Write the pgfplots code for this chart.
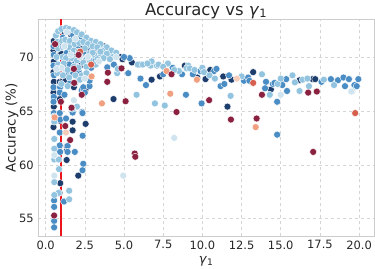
\documentclass[border=0pt]{standalone}
\usepackage{pgfplots}
\pgfplotsset{compat=1.18}
\usepackage{fontspec}
\setmainfont{DejaVu Sans}
\definecolor{cnavy}{HTML}{1D3D6D}
\definecolor{cmid}{HTML}{4A8DC4}
\definecolor{clight}{HTML}{92C4E0}
\definecolor{cpale}{HTML}{D0E4F0}
\definecolor{csalmon}{HTML}{F0A080}
\definecolor{cpink}{HTML}{F5CDBA}
\definecolor{cred}{HTML}{D6604D}
\definecolor{cwine}{HTML}{8B2141}
\definecolor{spine}{HTML}{CCCCCC}
\definecolor{gridc}{HTML}{D5D5D5}
\definecolor{txt}{HTML}{262626}
\definecolor{vline}{RGB}{235,20,28}
\tikzset{pt/.style={only marks, mark=*, mark size=3.5bp, mark options={draw=white, line width=0.4bp, fill=#1}}}
\begin{document}
\begin{tikzpicture}
\useasboundingbox (-38.3bp,-33bp) rectangle (336.7bp,236bp);
\begin{axis}[
  at={(0,0)}, anchor=south west,
  scale only axis, width=335.7bp, height=216.7bp,
  xmin=-0.47, xmax=20.95, ymin=53.4, ymax=73.5,
  xtick={0,2.5,5,7.5,10,12.5,15,17.5,20},
  xticklabels={0.0,2.5,5.0,7.5,10.0,12.5,15.0,17.5,20.0},
  ytick={55,60,65,70},
  major tick length=0pt,
  grid=major,
  grid style={dashed, gridc, line width=0.6bp},
  axis line style={spine, line width=0.9bp},
  /pgf/number format/assume math mode=true,
  tick label style={font=\fontsize{11.5}{12}\selectfont, text=txt},
  xticklabel style={yshift=-1bp},
  yticklabel style={xshift=-1bp},
  title={Accuracy vs \textit{γ}\textsubscript{1}},
  title style={font=\fontsize{16.5}{18}\selectfont, text=txt, yshift=-9bp},
  xlabel={\textit{γ}\textsubscript{1}},
  xlabel style={font=\fontsize{13}{14}\selectfont, text=txt, yshift=0bp},
  ylabel={Accuracy (\%)},
  ylabel style={font=\fontsize{13.5}{14}\selectfont, text=txt, yshift=-6bp},
  clip=true,
]
% navy
\addplot[pt=cnavy] coordinates {
(0.52,71.5)(0.5,70.6)(0.53,69.6)(0.5,68.6)(0.52,67.7)(0.5,66.7)(0.52,65.4)(0.5,63.5)
(0.9,71.0)(0.92,70.2)(0.88,69.1)(0.9,67.7)(0.9,66.1)(0.9,64.1)(0.88,61.3)(0.93,58.3)(0.88,57.4)
(1.05,67.7)(1.3,67.9)(1.2,72.3)(1.6,72.1)(1.25,70.9)(1.45,69.8)(1.7,71.4)(1.9,70.0)(2.05,71.6)(2.3,70.9)(2.5,71.3)(2.7,70.6)(2.95,70.4)(3.1,70.8)(3.3,70.6)(3.55,71.0)(3.7,71.0)(2.2,69.2)(1.6,68.8)(1.8,67.2)(2.55,67.0)(1.15,69.0)(1.0,70.3)
(1.72,63.2)(1.72,64.0)(1.34,60.45)(2.08,59.0)(2.55,63.8)(1.35,61.7)(1.35,61.3)
(4.33,66.1)(4.78,70.0)(5.5,69.5)(6.76,67.9)(7.29,68.2)(8.88,69.2)(9.67,68.1)(10.2,67.95)(10.5,68.8)(11.33,68.2)(11.86,67.9)(13.24,68.6)(14.37,67.0)(15.0,67.7)(16.2,67.85)(17.03,67.95)(17.2,67.95)(11.6,65.4)(4.0,70.2)(4.9,69.8)
};
% mid blue
\addplot[pt=cmid] coordinates {
(0.52,70.2)(0.5,69.2)(0.53,68.3)(0.5,67.2)(0.52,66.3)(0.5,65.85)(0.52,64.8)(0.54,56.7)(0.54,56.1)(0.54,54.8)(0.54,54.2)(0.5,71.0)
(0.92,67.2)(0.9,66.7)(0.9,64.8)(0.92,64.2)(0.9,61.8)(0.92,61.2)(0.9,63.0)
(1.3,64.3)(1.4,61.75)(1.4,61.2)(1.86,61.2)(1.17,56.6)(2.36,62.7)(2.4,60.1)(2.35,59.5)(2.33,64.9)(1.72,64.85)(2.35,64.8)(1.2,66.5)
(1.55,67.6)(2.0,68.2)(2.3,66.9)(2.4,66.7)(2.8,67.3)(2.8,67.8)(2.4,67.2)(2.5,66.7)
(1.1,71.8)(1.4,71.2)(1.75,72.0)(2.2,71.9)(1.35,70.4)(1.65,70.6)(2.0,70.9)(2.45,70.5)(2.85,71.0)(3.2,71.2)(3.4,70.3)(3.8,70.8)(4.1,70.5)
(1.2,69.6)(1.5,69.3)(1.9,69.5)(2.35,69.9)(2.6,69.8)(3.0,69.6)(1.3,68.4)(1.75,68.5)(2.1,68.7)(2.9,69.0)
(3.93,69.05)(4.35,69.3)(5.36,69.9)(5.27,68.5)(6.05,68.0)(6.4,67.4)(7.5,68.4)(8.1,69.0)(8.7,68.4)(9.39,68.4)(9.87,68.7)(10.75,68.7)(10.9,68.9)
(11.16,67.3)(11.4,67.5)(11.7,68.3)(12.65,67.8)(12.92,68.1)(13.0,67.8)(14.06,67.7)(14.0,67.1)(14.5,67.5)(14.6,67.6)(15.1,67.4)(15.35,67.95)(15.4,66.85)
(17.6,67.7)(18.2,67.95)(18.65,67.85)(19.0,68.1)(19.1,67.3)(19.35,67.95)(19.7,67.4)(19.85,67.3)(19.95,67.95)
(8.95,66.5)(9.95,65.7)(14.77,65.85)(14.77,62.8)(5.0,70.0)(6.0,69.3)
};
% light blue
\addplot[pt=clight] coordinates {
(0.65,72.0)(0.8,72.4)(1.0,72.6)(1.3,72.7)(1.5,72.6)(1.8,72.5)(2.0,72.3)(2.3,72.1)(2.6,71.8)(2.9,71.5)(3.2,71.4)(3.5,71.2)(3.9,70.9)(4.2,70.6)(4.5,70.4)
(0.75,71.4)(1.05,71.5)(1.25,71.6)(1.55,71.5)(1.85,71.2)(2.15,71.3)(2.4,71.4)(2.7,71.2)(3.0,71.0)(3.3,70.9)(3.6,70.6)
(0.8,70.8)(1.1,70.9)(1.5,70.9)(1.8,70.6)(2.1,70.5)(2.5,70.8)(2.8,70.3)(3.1,70.2)(3.5,70.1)(3.9,70.3)(4.3,70.0)
(0.7,70.0)(1.1,70.0)(1.3,69.9)(1.7,69.9)(2.0,69.7)(2.4,69.5)(2.8,69.7)(3.3,69.8)(3.7,69.9)(4.56,68.5)(4.6,68.9)
(0.8,69.3)(1.15,69.4)(1.4,68.8)(1.8,69.1)(2.1,69.0)(2.6,69.1)(3.2,69.3)
(0.75,68.5)(1.1,68.3)(1.5,68.1)(1.9,68.3)(2.3,68.3)(2.6,68.5)
(1.0,67.5)(1.4,67.3)(1.9,67.6)(2.2,67.9)
(0.55,61.5)(0.55,60.5)(0.83,60.5)(0.85,59.6)(0.55,58.4)(1.5,57.6)(0.82,57.4)(0.55,57.2)(1.5,56.8)(2.0,65.4)(1.7,65.2)(0.55,64.0)(0.55,62.4)(0.55,64.5)
(3.0,70.4)(3.5,70.5)(4.1,69.8)(5.8,66.5)(6.97,65.7)(7.6,65.5)
(5.88,69.3)(6.2,69.3)(6.7,69.2)(6.76,69.6)(7.1,69.2)(7.2,69.3)(7.8,69.4)(8.5,68.7)(9.1,69.2)(9.0,68.95)(9.2,68.95)(10.0,69.0)(10.1,68.6)(10.45,68.3)(10.8,68.0)
(12.5,68.2)(13.8,68.4)(14.8,67.5)(15.0,68.0)(15.75,68.3)(15.9,67.65)(16.4,67.9)(16.7,68.0)(16.8,67.3)(17.75,67.9)(18.4,67.4)
(11.8,66.4)(14.3,66.5)(16.2,66.85)(19.56,66.85)(6.5,69.4)(7.5,69.1)(8.2,68.8)(9.5,68.8)
};
% pale
\addplot[pt=cpale] coordinates {
(0.55,59.0)(0.55,60.9)(8.2,62.5)(4.95,59.0)(1.2,71.0)(1.6,70.2)(2.2,70.0)(1.9,71.7)(2.7,70.0)(3.4,69.6)(1.0,69.0)(2.5,68.0)(4.5,70.0)(0.7,68.9)(1.35,72.3)(15.0,66.5)(19.5,66.8)(1.8,66.0)
};
% salmon
\addplot[pt=csalmon] coordinates {
(0.57,64.4)(3.59,65.7)(7.95,66.6)(9.65,67.9)(2.93,68.2)(7.71,68.7)(13.4,63.5)
};
\addplot[pt=cpink] coordinates {(12.2,68.0)(1.3,63.0)};
% red
\addplot[pt=cred] coordinates {(13.24,67.6)(19.75,64.8)(2.2,70.5)(2.9,69.3)};
% wine
\addplot[pt=cwine] coordinates {
(0.6,71.2)(0.54,55.3)(0.97,65.85)(1.82,67.6)(1.25,63.6)(1.56,62.3)(1.65,65.3)(3.97,68.55)(3.93,67.7)(4.84,68.95)(5.1,65.9)(5.68,61.05)(5.72,60.75)
(8.03,68.4)(8.35,64.9)(10.43,66.0)(11.82,64.2)(13.46,64.3)(13.8,66.5)(16.75,66.7)(17.3,66.8)(17.07,61.2)(1.8,68.9)(2.1,70.2)(2.3,66.5)
};
\addplot[draw=vline, line width=2.2bp, mark=none] coordinates {(1,53.4) (1,73.5)};
\end{axis}
\end{tikzpicture}
\end{document}
